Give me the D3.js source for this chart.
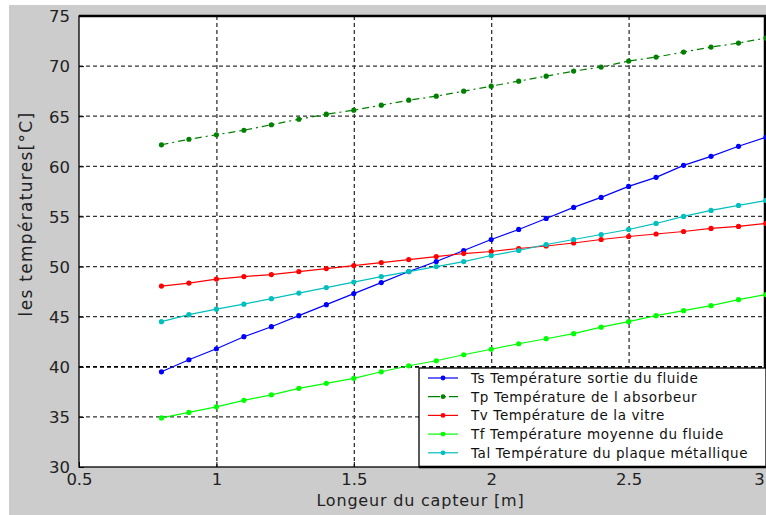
<!DOCTYPE html>
<html><head><meta charset="utf-8">
<script src="https://cdn.jsdelivr.net/npm/d3@7"></script>
<style>html,body{margin:0;padding:0;background:#fff;}svg{display:block;}</style>
</head><body>
<svg id="c" width="766" height="515"></svg>
<script>
const xs = [0.8,0.9,1.0,1.1,1.2,1.3,1.4,1.5,1.6,1.7,1.8,1.9,2.0,2.1,2.2,2.3,2.4,2.5,2.6,2.7,2.8,2.9,3.0];
const Ts  = [39.5,40.7,41.8,43.0,44.0,45.1,46.2,47.3,48.4,49.5,50.5,51.6,52.7,53.7,54.8,55.9,56.9,58.0,58.9,60.1,61.0,62.0,62.9];
const Tp  = [62.15,62.7,63.15,63.6,64.15,64.7,65.2,65.6,66.1,66.6,67.0,67.5,68.0,68.5,69.0,69.5,69.9,70.5,70.9,71.4,71.9,72.3,72.8];
const Tv  = [48.05,48.35,48.75,49.0,49.2,49.5,49.8,50.1,50.4,50.7,51.0,51.3,51.5,51.8,52.05,52.35,52.7,53.0,53.25,53.5,53.8,54.0,54.3];
const Tf  = [34.9,35.45,36.0,36.65,37.2,37.85,38.35,38.85,39.5,40.1,40.6,41.2,41.75,42.3,42.8,43.3,43.95,44.5,45.1,45.6,46.1,46.7,47.2];
const Tal = [44.5,45.2,45.75,46.25,46.8,47.35,47.9,48.45,49.0,49.5,50.0,50.5,51.1,51.6,52.2,52.7,53.2,53.7,54.3,55.0,55.6,56.1,56.6];
const seriesNames = ["Ts Température sortie du fluide","Tp Température de l absorbeur","Tv Température de la vitre","Tf Température moyenne du fluide","Tal Température du plaque métallique"];
const seriesColors = ["#0000ff","#008000","#ff0000","#00ff00","#00bfbf"];
const seriesDash = [null,"7,4,2,4",null,null,null];
const xTicks = [0.5,1,1.5,2,2.5,3];
const yTicks = [30,35,40,45,50,55,60,65,70,75];
const xLabel = "Longeur du capteur [m]";
const yLabel = "les températures[°C]";

const series = [Ts,Tp,Tv,Tf,Tal];
const svg = d3.select("#c");
const L=79,R=766,T=16,B=467;
const x = d3.scaleLinear().domain([0.5,3]).range([L,R]);
const y = d3.scaleLinear().domain([30,75]).range([B,T]);
const font = "DejaVu Sans, sans-serif";

svg.append("rect").attr("x",9).attr("y",5).attr("width",757).attr("height",510).attr("fill","#cccccc");
svg.append("rect").attr("x",L).attr("y",T).attr("width",R-L).attr("height",B-T).attr("fill","#fff");

// grid
const g = svg.append("g");
g.selectAll(".vg").data(xTicks.filter(d=>d>0.5&&d<3)).enter().append("line")
  .attr("x1",d=>x(d)+0.5).attr("x2",d=>x(d)+0.5).attr("y1",T).attr("y2",B)
  .attr("stroke","#222").attr("stroke-width",1.2).attr("stroke-dasharray","4,3");
g.selectAll(".hg").data(yTicks.filter(d=>d>30&&d<75)).enter().append("line")
  .attr("x1",L).attr("x2",R).attr("y1",d=>y(d)).attr("y2",d=>y(d))
  .attr("stroke",d=>d===40?"#000":"#333").attr("stroke-width",d=>d===40?1.8:1.2).attr("stroke-dasharray","4,3");

// axes with inward ticks
const xAxis = d3.axisBottom(x).tickValues(xTicks).tickSizeInner(-5).tickSizeOuter(0).tickFormat(d3.format("~g")).tickPadding(9);
const yAxis = d3.axisLeft(y).tickValues(yTicks).tickSizeInner(-5).tickSizeOuter(0).tickFormat(d3.format("~g")).tickPadding(9);
const gx = svg.append("g").attr("transform",`translate(0,${B})`).call(xAxis);
const gy = svg.append("g").attr("transform",`translate(${L},0)`).call(yAxis);
[gx,gy].forEach(a=>{
  a.select(".domain").remove();
  a.selectAll("line").attr("stroke","#000");
  a.selectAll("text").attr("font-family",font).attr("font-size",16.5).attr("fill","#222");
});
gx.selectAll("text").attr("dy","0.55em");
gx.selectAll("text").filter(d=>d===3).attr("dx","-7");
gy.selectAll("text").attr("dy","0.35em");

// frame
svg.append("rect").attr("x",L).attr("y",T).attr("width",R-L).attr("height",B-T)
  .attr("fill","none").attr("stroke","#000").attr("stroke-width",1.3);
svg.append("line").attr("x1",L).attr("x2",R).attr("y1",T).attr("y2",T).attr("stroke","#000").attr("stroke-width",2.5);
svg.append("line").attr("x1",R-1).attr("x2",R-1).attr("y1",T).attr("y2",B).attr("stroke","#000").attr("stroke-width",2.5);

// series
const line = d3.line().x((d,i)=>x(xs[i])).y(d=>y(d));
series.forEach((s,k)=>{
  svg.append("path").datum(s).attr("d",line).attr("fill","none")
    .attr("stroke",seriesColors[k]).attr("stroke-width",1.2)
    .attr("stroke-dasharray",seriesDash[k]);
  svg.append("g").selectAll("circle").data(s).enter().append("circle")
    .attr("cx",(d,i)=>x(xs[i])).attr("cy",d=>y(d)).attr("r",2.6).attr("fill",seriesColors[k]);
});

// legend
const lx=419, ly=368;
svg.append("rect").attr("x",lx).attr("y",ly).attr("width",R-lx).attr("height",B-ly)
  .attr("fill","#fff").attr("stroke","#000").attr("stroke-width",1.3);
svg.append("line").attr("x1",lx).attr("x2",R).attr("y1",B).attr("y2",B).attr("stroke","#000").attr("stroke-width",2.5);
seriesNames.forEach((n,k)=>{
  const yy = ly+10+k*18.7;
  svg.append("line").attr("x1",428).attr("x2",458).attr("y1",yy).attr("y2",yy)
    .attr("stroke",seriesColors[k]).attr("stroke-width",1.2).attr("stroke-dasharray",seriesDash[k]?"12,3,3,3":null);
  svg.append("circle").attr("cx",443).attr("cy",yy).attr("r",2.4).attr("fill",seriesColors[k]);
  svg.append("text").attr("x",471).attr("y",yy).attr("dy","0.36em").text(n)
    .attr("font-family",font).attr("font-size",13.5).attr("letter-spacing",0.6).attr("fill","#111");
});

// axis labels
svg.append("text").attr("x",(L+R)/2-2).attr("y",506).attr("text-anchor","middle")
  .attr("font-family",font).attr("font-size",16).attr("letter-spacing",0.8).attr("fill","#222").text(xLabel);
svg.append("text").attr("transform","translate(32,214) rotate(-90)").attr("text-anchor","middle")
  .attr("font-family",font).attr("font-size",17).attr("letter-spacing",1.3).attr("fill","#222").text(yLabel);
</script>
</body></html>
